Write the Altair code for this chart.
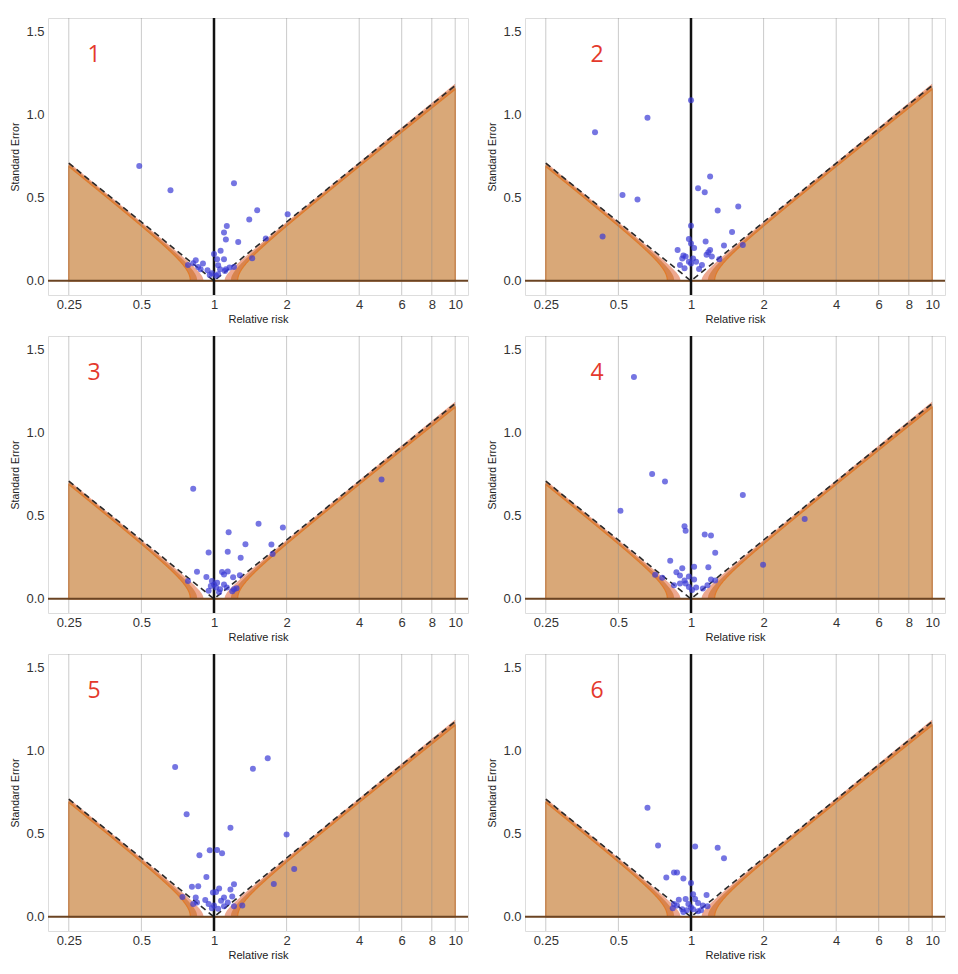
import numpy as np
import pandas as pd
import altair as alt

# ---------------- data ----------------
rr1 = [0.49, 0.66, 1.21, 1.51, 2.02, 1.40, 1.13, 1.10, 1.12, 1.26, 1.64, 1.065, 1.0, 1.44, 1.10, 1.03,
       0.84, 0.78, 0.90, 0.82, 0.86, 0.94, 0.88, 0.98, 1.04, 1.12, 1.16, 1.21, 1.11, 1.06, 1.02, 0.96, 1.04]
se1 = [0.69, 0.544, 0.586, 0.424, 0.40, 0.369, 0.329, 0.291, 0.249, 0.233, 0.255, 0.181, 0.161, 0.136, 0.13, 0.13,
       0.124, 0.096, 0.104, 0.106, 0.084, 0.064, 0.07, 0.046, 0.04, 0.07, 0.08, 0.084, 0.06, 0.07, 0.03, 0.035, 0.094]

rr2 = [1.0, 0.66, 0.40, 1.20, 1.07, 1.14, 0.52, 0.60, 1.57, 1.29, 1.0, 1.48, 0.43, 0.98, 1.15, 1.37, 1.64, 1.0,
       1.03, 0.88, 1.20, 1.18, 1.16, 0.93, 0.95, 1.02, 0.92, 1.31, 1.22, 0.98, 0.90, 0.94, 1.11, 1.08, 1.05, 1.0]
se2 = [1.086, 0.981, 0.893, 0.627, 0.556, 0.533, 0.516, 0.489, 0.447, 0.423, 0.331, 0.293, 0.266, 0.252, 0.237,
       0.212, 0.216, 0.224, 0.197, 0.185, 0.185, 0.172, 0.157, 0.153, 0.147, 0.134, 0.134, 0.13, 0.147, 0.115,
       0.096, 0.076, 0.096, 0.071, 0.115, 0.105]

rr3 = [0.82, 4.95, 1.53, 1.93, 1.15, 1.35, 1.73, 0.95, 1.14, 1.75, 1.29, 0.85, 1.08, 1.14, 0.78, 0.93, 1.10,
       1.20, 1.28, 0.98, 1.03, 0.97, 1.10, 1.02, 1.06, 0.95, 1.21, 1.24, 1.19, 1.0, 1.05, 1.13]
se3 = [0.662, 0.717, 0.452, 0.429, 0.40, 0.328, 0.326, 0.278, 0.283, 0.27, 0.247, 0.163, 0.161, 0.165, 0.107,
       0.132, 0.146, 0.13, 0.142, 0.107, 0.097, 0.078, 0.087, 0.068, 0.058, 0.049, 0.058, 0.064, 0.045, 0.087,
       0.039, 0.068]

rr4 = [0.58, 0.69, 0.78, 1.64, 0.51, 2.96, 0.94, 0.95, 1.14, 1.21, 1.26, 0.82, 1.99, 1.03, 0.92, 1.18, 0.87,
       0.90, 0.71, 0.76, 0.98, 1.03, 1.21, 1.26, 0.94, 0.90, 0.85, 0.98, 1.05, 1.01, 1.12, 1.17, 0.95]
se4 = [1.334, 0.75, 0.705, 0.625, 0.529, 0.48, 0.436, 0.41, 0.387, 0.381, 0.277, 0.229, 0.205, 0.193, 0.184,
       0.19, 0.16, 0.141, 0.145, 0.127, 0.135, 0.117, 0.117, 0.111, 0.111, 0.092, 0.082, 0.072, 0.068, 0.053,
       0.0625, 0.082, 0.092]

rr5 = [0.69, 1.67, 1.45, 0.77, 1.17, 2.0, 0.96, 1.03, 1.08, 0.87, 2.15, 0.93, 1.77, 1.21, 0.81, 0.86, 1.05,
       1.17, 0.99, 1.02, 0.74, 0.84, 0.92, 1.10, 1.19, 1.07, 0.82, 0.95, 1.0, 1.14, 1.21, 1.31, 0.98, 1.04, 1.10,
       0.85]
se5 = [0.901, 0.953, 0.891, 0.617, 0.536, 0.495, 0.40, 0.402, 0.383, 0.371, 0.287, 0.239, 0.198, 0.196, 0.181,
       0.184, 0.171, 0.165, 0.146, 0.15, 0.12, 0.117, 0.101, 0.117, 0.122, 0.097, 0.078, 0.078, 0.068, 0.087,
       0.064, 0.068, 0.052, 0.049, 0.064, 0.087]

rr6 = [0.66, 0.73, 1.04, 1.29, 1.37, 0.85, 0.875, 0.79, 0.93, 1.0, 1.02, 1.16, 1.04, 0.89, 0.95, 0.85, 0.975,
       1.07, 1.12, 1.17, 0.84, 0.92, 0.96, 1.02, 1.07, 0.875, 0.93, 1.0, 1.10]
se6 = [0.656, 0.429, 0.423, 0.416, 0.353, 0.266, 0.266, 0.237, 0.231, 0.204, 0.136, 0.132, 0.107, 0.103, 0.107,
       0.078, 0.078, 0.083, 0.068, 0.064, 0.052, 0.045, 0.039, 0.045, 0.033, 0.068, 0.029, 0.058, 0.039]

panel_labels = ["1", "2", "3", "4", "5", "6"]
x_ticks = [0.25, 0.5, 1, 2, 4, 6, 8, 10]
x_grid = [0.25, 0.5, 2, 4, 6, 8, 10]
y_ticks = [0.0, 0.5, 1.0, 1.5]

# funnel limits: SE = |ln RR| / 1.96  (pseudo 95% limits) and the shaded contour bands
lo, hi = np.log(0.25), np.log(10.0)
bands = [  # (offset, z, fill)
    (0.10, 1.94, "#eda890"),
    (0.16, 1.96, "#d8844e"),
    (0.225, 1.99, "#d9a878"),
]


def band_frame(a, z):
    l = np.unique(np.concatenate([np.linspace(lo, hi, 900), [-a, a, 0.0]]))
    y = np.sqrt(np.clip(l ** 2 - a ** 2, 0, None)) / z
    return pd.DataFrame({"x": np.exp(l), "y": y, "y0": 0.0})


dash_x = [0.25, 1.0, 10.0]
dash_df = pd.DataFrame({"x": dash_x, "y": [abs(np.log(v)) / 1.96 for v in dash_x]})

# ---------------- encodings ----------------
xscale = alt.Scale(type="log", domain=[0.205, 11.3], nice=False)
yscale = alt.Scale(domain=[-0.085, 1.58], nice=False, zero=False)
xaxis = alt.Axis(values=x_ticks, labelExpr="'' + datum.value", title="Relative risk", grid=False,
                 domain=False, ticks=False, labelFontSize=13, labelColor="#333", labelPadding=3,
                 titleFontSize=11, titleFontWeight="normal", titleColor="#222", titlePadding=2,
                 labelFont="Liberation Sans", titleFont="Liberation Sans")
yaxis = alt.Axis(values=y_ticks, format=".1f", title="Standard Error", grid=False, domain=False, ticks=False,
                 labelFontSize=13, labelColor="#333", labelPadding=4, titleFontSize=10.5,
                 titleFontWeight="normal", titleColor="#222", titlePadding=5,
                 labelFont="Liberation Sans", titleFont="Liberation Sans")


def X():
    return alt.X("x:Q", scale=xscale, axis=xaxis)


def Y():
    return alt.Y("y:Q", scale=yscale, axis=yaxis)


W, H = 420, 277


def panel(idx, rr, se):
    layers = []
    for a, z, fill in bands:
        df = band_frame(a, z)
        if fill == "#d9a878":
            mk = alt.Chart(df).mark_area(fill=fill, stroke="#e07b2a", strokeWidth=1.2)
        else:
            mk = alt.Chart(df).mark_area(fill=fill)
        layers.append(mk.encode(x=X(), y=Y(), y2="y0:Q"))
    grid = alt.Chart(pd.DataFrame({"x": x_grid})).mark_rule(color="#8a8a8a", opacity=0.45, strokeWidth=1).encode(x=X())
    zero = alt.Chart(pd.DataFrame({"y": [0.0]})).mark_rule(color="#6b4423", strokeWidth=2).encode(y=Y())
    dash = alt.Chart(dash_df).mark_line(color="#2a2a2a", strokeDash=[6, 4], strokeWidth=1.6).encode(x=X(), y=Y())
    vline = alt.Chart(pd.DataFrame({"x": [1.0]})).mark_rule(color="#111111", strokeWidth=2.5).encode(x=X())
    pts = alt.Chart(pd.DataFrame({"x": rr, "y": se})).mark_circle(size=36, color="#3b3bd6", opacity=0.7).encode(
        x=X(), y=Y())
    tx = 46 if idx % 2 == 0 else 72
    num = alt.Chart(pd.DataFrame({"t": [panel_labels[idx]]})).mark_text(
        fontSize=23, color="#e4392c", font="Open Sans", baseline="middle", align="center").encode(
        x=alt.value(tx), y=alt.value(37), text="t:N")
    return alt.layer(*layers, grid, zero, dash, vline, pts, num).properties(width=W, height=H)


data = [(rr1, se1), (rr2, se2), (rr3, se3), (rr4, se4), (rr5, se5), (rr6, se6)]
ps = [panel(i, r, s) for i, (r, s) in enumerate(data)]

rows = [alt.hconcat(ps[0], ps[1], spacing=17),
        alt.hconcat(ps[2], ps[3], spacing=17),
        alt.hconcat(ps[4], ps[5], spacing=17)]

chart = alt.vconcat(*rows, spacing=9).properties(
    padding={"top": 8, "left": 2, "right": 0, "bottom": 0}
).configure_view(fill="#f5f5f5", stroke="transparent", strokeWidth=0).configure(background="white")

chart.save("out.html", embed_options={"renderer": "svg", "actions": False})
